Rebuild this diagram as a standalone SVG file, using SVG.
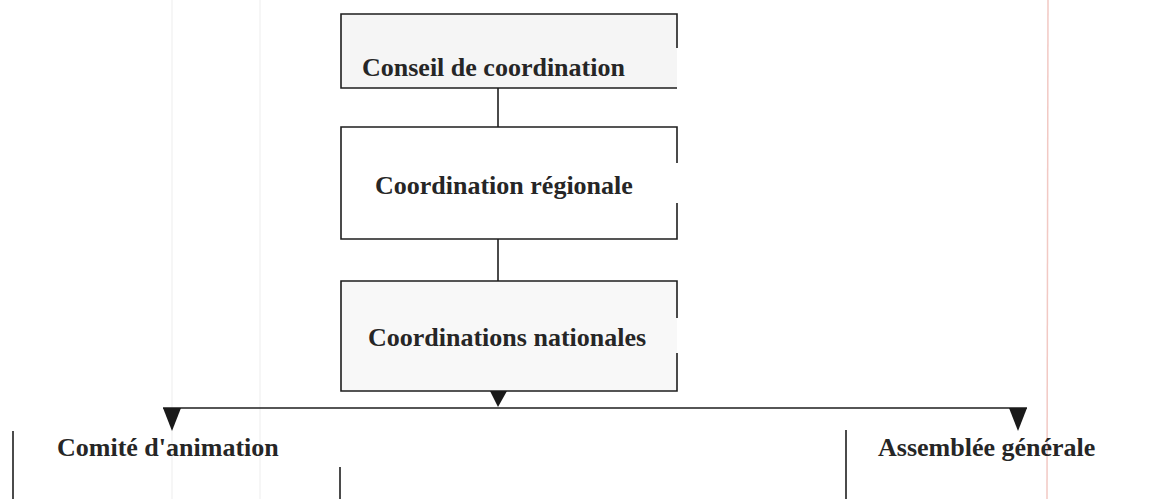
<svg xmlns="http://www.w3.org/2000/svg" width="1171" height="499" viewBox="0 0 1171 499">
<style>
.ln{stroke:#1e1e1e;stroke-width:1.6;fill:none}
.lbl{font-family:"Liberation Serif","Times New Roman",serif;font-weight:bold;font-size:26px;fill:#262626}
.ah{fill:#1a1a1a}
</style>
<defs>
<polygon id="tri" points="-9,0 9,0 0,23" class="ah"/>
</defs>
<rect width="1171" height="499" fill="#ffffff"/>
<line x1="1048" y1="0" x2="1047" y2="499" stroke="#f2c9c4" stroke-width="1.5"/>
<line x1="172" y1="0" x2="172" y2="499" stroke="#f3f3f3" stroke-width="1.5"/>
<line x1="260" y1="0" x2="260" y2="499" stroke="#f3f3f3" stroke-width="1.5"/>

<g id="conseil">
<rect x="341" y="14" width="336" height="74" fill="#f5f5f5"/>
<path class="ln" d="M677,48 V14 H341 V88 H677"/>
<text class="lbl" x="362" y="76">Conseil de coordination</text>
</g>

<g id="regionale">
<path class="ln" d="M677,163 V127 H341 V239 H677 V203"/>
<text class="lbl" x="375" y="194">Coordination régionale</text>
</g>

<g id="nationales">
<rect x="341" y="281" width="336" height="110" fill="#f8f8f8"/>
<path class="ln" d="M677,318 V281 H341 V391 H677 V353"/>
<text class="lbl" x="368" y="346">Coordinations nationales</text>
</g>

<g id="comite">
<line class="ln" x1="13" y1="431" x2="13" y2="499"/>
<line class="ln" x1="340" y1="467" x2="340" y2="499"/>
<text class="lbl" x="57" y="456">Comité d'animation</text>
</g>

<g id="assemblee">
<line class="ln" x1="846" y1="430" x2="846" y2="499"/>
<text class="lbl" x="878" y="456">Assemblée générale</text>
</g>

<g id="connectors">
<line class="ln" x1="498" y1="88" x2="498" y2="127"/>
<line class="ln" x1="498" y1="239" x2="498" y2="281"/>
<polygon class="ah" points="490,391 507,391 498,407"/>
<line class="ln" x1="163" y1="408" x2="1027" y2="408"/>
<use href="#tri" x="172" y="408"/>
<use href="#tri" x="1018" y="408"/>
</g>
</svg>
